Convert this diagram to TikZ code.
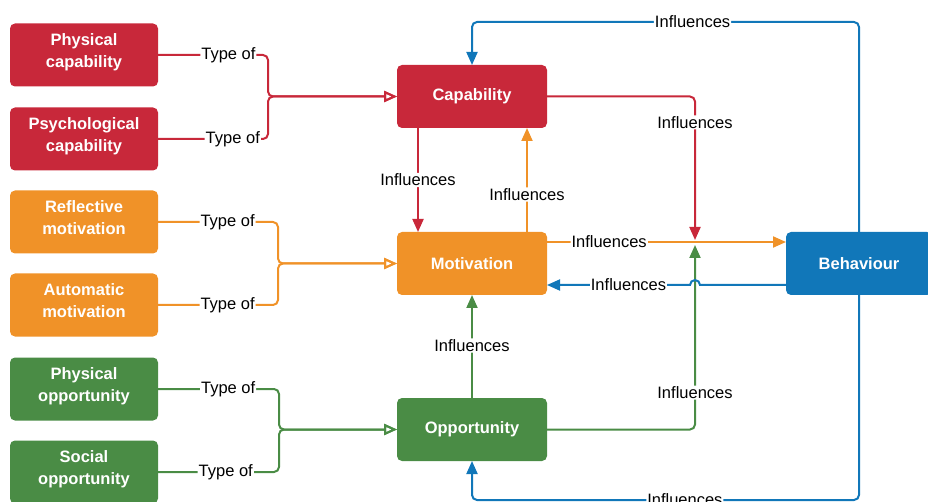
\documentclass[tikz,border=0pt]{standalone}
\usepackage{fontspec}
\setmainfont{Liberation Sans}
\usetikzlibrary{arrows.meta}
\definecolor{cred}{HTML}{C8283A}
\definecolor{corange}{HTML}{F09228}
\definecolor{cgreen}{HTML}{4A8C45}
\definecolor{cblue}{HTML}{1177B9}
\begin{document}
\begin{tikzpicture}[x=1pt,y=-1pt,
  box/.style={fill=#1, rounded corners=5pt, text=white, align=center,
    font=\bfseries\fontsize{16.5}{22.5}\selectfont, inner sep=0pt, outer sep=0pt,
    minimum height=63pt},
  lbox/.style={box=#1, minimum width=148pt, text depth=9pt},
  cbox/.style={box=#1, minimum width=150pt},
  lab/.style={fill=white, text=black, font=\fontsize{16.5}{18}\selectfont, inner sep=1pt},
  conn/.style={line width=2pt, rounded corners=5pt},
  inf/.style={conn, draw=#1, -{Triangle[length=13pt,width=11pt]}},
  typeof/.style={conn, draw=#1, -{Triangle[open,length=13pt,width=11pt]}}]
\useasboundingbox (0,0) rectangle (928,502);

% left boxes
\node[lbox=cred]    (pc) at (84,55)  {Physical\\capability};
\node[lbox=cred]    (sc) at (84,139) {Psychological\\capability};
\node[lbox=corange] (rm) at (84,222) {Reflective\\motivation};
\node[lbox=corange] (am) at (84,305) {Automatic\\motivation};
\node[lbox=cgreen]  (po) at (84,389) {Physical\\opportunity};
\node[lbox=cgreen]  (so) at (84,472) {Social\\opportunity};

% central boxes
\node[cbox=cred]    (cap) at (472,96.5)  {Capability};
\node[cbox=corange] (mot) at (472,263.5) {Motivation};
\node[cbox=cgreen]  (opp) at (472,429.5) {Opportunity};
\node[box=cblue, minimum width=146pt] (beh) at (859,263.5) {Behaviour};

\coordinate (jr) at (695,240);
\coordinate (jg) at (695,245);

% Type of connectors
\draw[typeof=cred] (pc.east) -- node[lab,pos=0.64]{Type of} (268,0 |- pc.east) |- (cap.west);
\draw[typeof=cred] (sc.east) -- node[lab,pos=0.68]{Type of} (268,0 |- sc.east) |- (cap.west);
\draw[typeof=corange] (rm.east) -- node[lab,pos=0.58]{Type of} (278,0 |- rm.east) |- (mot.west);
\draw[typeof=corange] (am.east) -- node[lab,pos=0.58]{Type of} (278,0 |- am.east) |- (mot.west);
\draw[typeof=cgreen] (po.east) -- node[lab,pos=0.58]{Type of} (279,0 |- po.east) |- (opp.west);
\draw[typeof=cgreen] (so.east) -- node[lab,pos=0.56]{Type of} (279,0 |- so.east) |- (opp.west);

% Influences between central boxes
\draw[inf=cred] (418,0 |- cap.south) -- node[lab]{Influences} (418,0 |- mot.north);
\draw[inf=corange] (527,0 |- mot.north) -- node[lab,pos=0.36]{Influences} (527,0 |- cap.south);
\draw[inf=cgreen] (opp.north) -- node[lab,pos=0.51]{Influences} (mot.south);

% towards behaviour
\draw[inf=corange] (mot.east |- 0,242) -- node[lab,pos=0.26]{Influences} (beh.west |- 0,242);
\draw[inf=cred] (cap.east) -| node[lab,pos=0.59]{Influences} (jr);
\draw[inf=cgreen] (opp.east) -| node[lab,pos=0.6]{Influences} (jg);
\draw[inf=cblue, sharp corners] (beh.west |- 0,285) -- (700,285) arc[start angle=0,end angle=-180,radius=5]
  -- node[lab,pos=0.43]{Influences} (mot.east |- 0,285);

% feedback loops
\draw[inf=cblue] (beh.north) -- (beh.north |- 0,22) -- node[lab,pos=0.43]{Influences} (cap.north |- 0,22) -- (cap.north);
\draw[inf=cblue] (beh.south) -- (beh.south |- 0,500) -- node[lab,pos=0.45]{Influences} (opp.south |- 0,500) -- (opp.south);
\end{tikzpicture}
\end{document}
